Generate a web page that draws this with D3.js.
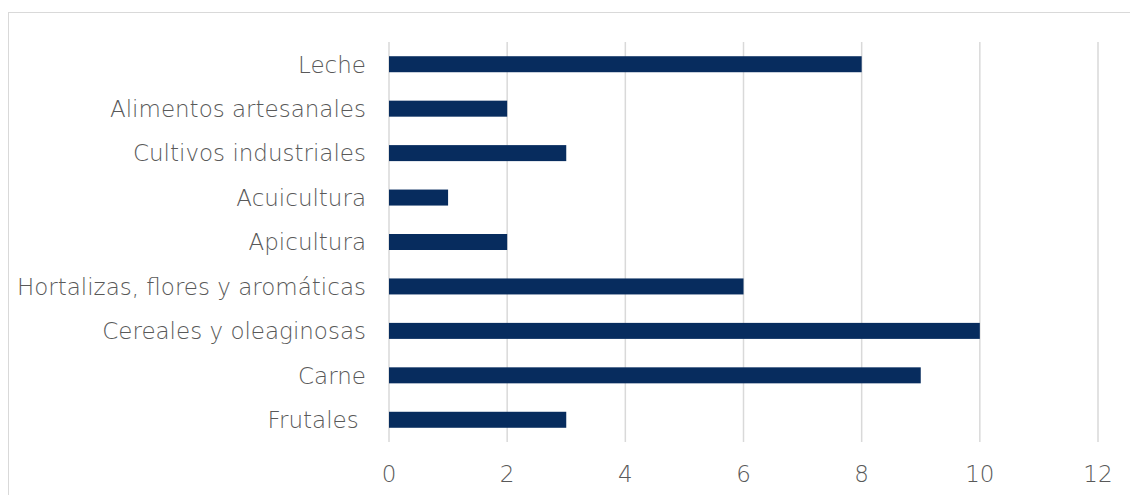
<!DOCTYPE html>
<html>
<head>
<meta charset="utf-8">
<script src="https://cdn.jsdelivr.net/npm/d3@7"></script>
<style>
  html, body { margin: 0; padding: 0; background: #fff; }
  svg { display: block; }
  text { font-family: "Century Gothic", "DejaVu Sans", sans-serif; font-weight: 200; fill: #595959; }
</style>
</head>
<body>
<div id="chart"></div>
<script>
// Categories, listed bottom-to-top as in the source table
const categories = [
  "Frutales ",
  "Carne",
  "Cereales y oleaginosas",
  "Hortalizas, flores y aromáticas",
  "Apicultura",
  "Acuicultura",
  "Cultivos industriales",
  "Alimentos artesanales",
  "Leche"
];
const values = [3, 9, 10, 6, 2, 1, 3, 2, 8];
const xTicks = [0, 2, 4, 6, 8, 10, 12];

const W = 1130, H = 495;
const svg = d3.select("#chart").append("svg").attr("width", W).attr("height", H);

// Chart frame
svg.append("rect")
  .attr("x", 8.5).attr("y", 12.5)
  .attr("width", W).attr("height", H)
  .attr("fill", "none").attr("stroke", "#d9d9d9").attr("stroke-width", 1);

const plot = { left: 389, right: 1098, top: 42, bottom: 442 };

const x = d3.scaleLinear().domain([0, 12]).range([plot.left, plot.right]);
const y = d3.scaleBand()
  .domain(categories.slice().reverse())
  .range([plot.top, plot.bottom])
  .paddingInner(0.64).paddingOuter(0.32);

// Vertical gridlines
svg.append("g").selectAll("line").data(xTicks).join("line")
  .attr("x1", d => x(d)).attr("x2", d => x(d))
  .attr("y1", plot.top).attr("y2", plot.bottom)
  .attr("stroke", "#d9d9d9").attr("stroke-width", 1.5);

// Bars
svg.append("g").selectAll("rect").data(categories).join("rect")
  .attr("x", x(0))
  .attr("y", d => y(d))
  .attr("width", (d, i) => x(values[i]) - x(0))
  .attr("height", y.bandwidth())
  .attr("fill", "#072c5e");

// Category labels
svg.append("g").selectAll("text").data(categories).join("text")
  .attr("x", 366)
  .attr("y", d => y(d) + y.bandwidth() / 2)
  .attr("dy", "0.36em")
  .attr("text-anchor", "end")
  .attr("font-size", 23)
  .style("white-space", "pre")
  .text(d => d);

// Value axis tick labels
svg.append("g").selectAll("text").data(xTicks).join("text")
  .attr("x", d => x(d))
  .attr("y", 474)
  .attr("dy", "0.36em")
  .attr("text-anchor", "middle")
  .attr("font-size", 23)
  .text(d => d);
</script>
</body>
</html>
